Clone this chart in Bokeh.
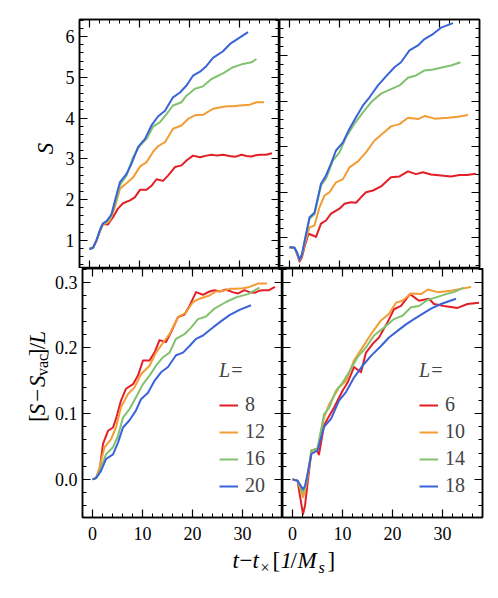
import math
from bokeh.plotting import figure
from bokeh.models import (Range1d, FixedTicker, LinearAxis, Label, Legend, LegendItem,
                          NumeralTickFormatter, BasicTickFormatter, CustomJSTickFormatter)
from bokeh.layouts import row, column
from bokeh.embed import file_html
from bokeh.resources import INLINE

FONT = "Liberation Serif"
COLORS = ["#e41e26", "#f39c34", "#82c26e", "#3b63d9"]

# ---------------- data ----------------
labels_left = ["8", "12", "16", "20"]
labels_right = ["6", "10", "14", "18"]

# top-left: S vs t (L = 8, 12, 16, 20)
t_lt_8 = [0, 0.7, 1.4, 2.1, 2.7, 3.7, 4.7, 5.7, 6.7, 8.1, 9.1, 10.1, 11.4, 12.4, 13.4, 14.7, 15.7, 17.1, 18.4, 19.4, 20.7, 22.1, 23.4, 24.4, 25.5, 26.7, 28, 29.1, 30.4, 31.4, 32.4, 33.3, 34.1, 35.3, 36.5]
s_lt_8 = [0.79, 0.82, 1.0, 1.23, 1.40, 1.39, 1.57, 1.78, 1.91, 1.98, 2.06, 2.24, 2.24, 2.34, 2.50, 2.46, 2.59, 2.80, 2.84, 2.96, 3.08, 3.04, 3.08, 3.10, 3.08, 3.10, 3.07, 3.05, 3.10, 3.07, 3.06, 3.09, 3.10, 3.10, 3.14]
t_lt_12 = [0, 0.7, 1.4, 2.1, 2.7, 3.4, 4.1, 5.1, 6.1, 7.4, 8.7, 10.1, 11.4, 12.7, 13.7, 15.1, 16.7, 18.4, 19.7, 21.1, 22.7, 24.7, 26, 27.4, 28.7, 30.1, 32.1, 33.4, 34.9]
s_lt_12 = [0.79, 0.82, 1.0, 1.24, 1.40, 1.42, 1.49, 1.82, 2.27, 2.40, 2.54, 2.81, 2.92, 3.17, 3.31, 3.41, 3.74, 3.82, 3.98, 4.07, 4.08, 4.23, 4.26, 4.29, 4.29, 4.31, 4.33, 4.39, 4.39]
t_lt_16 = [0, 0.7, 1.4, 2.1, 2.7, 3.4, 4.1, 5.1, 6.1, 7.4, 8.7, 10.1, 11.4, 12.7, 14.1, 15.4, 16.7, 18.4, 19.4, 21.1, 22.7, 24.4, 26.7, 28.7, 30.7, 32.4, 33.4]
s_lt_16 = [0.79, 0.82, 1.0, 1.25, 1.41, 1.45, 1.53, 1.90, 2.36, 2.59, 3.04, 3.33, 3.49, 3.79, 3.90, 4.10, 4.31, 4.39, 4.55, 4.72, 4.78, 4.96, 5.10, 5.25, 5.33, 5.37, 5.45]
t_lt_20 = [0, 0.7, 1.4, 2.1, 2.7, 3.4, 4.4, 5.1, 6.1, 7.4, 8.4, 9.7, 11.1, 12.4, 13.7, 15.1, 16.7, 18.1, 19.4, 20.7, 22.1, 23.4, 24.7, 26.7, 28.1, 30.1, 31.7]
s_lt_20 = [0.79, 0.82, 1.0, 1.26, 1.42, 1.47, 1.64, 1.98, 2.43, 2.63, 2.88, 3.29, 3.49, 3.82, 4.04, 4.18, 4.51, 4.63, 4.80, 5.04, 5.14, 5.28, 5.48, 5.64, 5.82, 5.98, 6.11]

# bottom-left: [S - S_vac]/L
t_lb_8 = [0, 0.7, 1.4, 2.1, 3.1, 4.1, 4.7, 5.7, 6.7, 8.1, 9.1, 10.1, 11.4, 12.4, 13.4, 14.7, 15.7, 17.1, 18.4, 19.4, 20.7, 22.1, 23.4, 24.4, 25.5, 26.7, 28, 29.1, 30.4, 31.4, 32.4, 33.3, 34.1, 35.3, 36.5]
v_lb_8 = [0, 0.002, 0.013, 0.054, 0.074, 0.079, 0.092, 0.120, 0.138, 0.145, 0.158, 0.181, 0.181, 0.193, 0.212, 0.209, 0.224, 0.247, 0.251, 0.264, 0.285, 0.281, 0.286, 0.288, 0.286, 0.289, 0.285, 0.283, 0.288, 0.285, 0.284, 0.287, 0.288, 0.288, 0.293]
t_lb_12 = [0, 0.7, 1.4, 2.4, 3.7, 4.7, 5.7, 7.1, 8.4, 9.7, 11.4, 12.7, 14.1, 15.4, 17.1, 18.7, 20.1, 21.4, 23.4, 24.7, 26.1, 27.4, 28.7, 30.1, 31.4, 33.1, 34.9]
v_lb_12 = [0, 0.002, 0.018, 0.049, 0.061, 0.079, 0.110, 0.130, 0.140, 0.160, 0.173, 0.193, 0.208, 0.221, 0.247, 0.254, 0.270, 0.275, 0.280, 0.286, 0.287, 0.290, 0.290, 0.291, 0.293, 0.298, 0.298]
t_lb_16 = [0, 0.7, 1.4, 2.7, 4.1, 5.1, 6.1, 7.4, 8.7, 10.1, 11.4, 12.7, 14.1, 15.4, 16.7, 18.4, 19.7, 21.1, 22.7, 24.4, 26.7, 28.7, 31.1, 33.4]
v_lb_16 = [0, 0.002, 0.011, 0.038, 0.049, 0.066, 0.094, 0.107, 0.125, 0.145, 0.158, 0.173, 0.186, 0.193, 0.214, 0.221, 0.231, 0.244, 0.248, 0.260, 0.270, 0.277, 0.282, 0.292]
t_lb_20 = [0, 0.7, 1.7, 2.7, 4.1, 5.1, 6.1, 7.4, 8.7, 9.7, 11.1, 12.4, 13.7, 15.1, 16.7, 18.1, 19.4, 20.7, 22.1, 23.7, 25.4, 27.4, 29.4, 31.7]
v_lb_20 = [0, 0.002, 0.013, 0.031, 0.038, 0.056, 0.079, 0.090, 0.105, 0.122, 0.132, 0.150, 0.163, 0.171, 0.189, 0.193, 0.203, 0.214, 0.219, 0.229, 0.239, 0.250, 0.258, 0.265]

# top-right: S vs t (L = 6, 10, 14, 18)
t_rt_6 = [0, 1, 1.5, 2, 2.5, 3, 3.8, 4.7, 5.3, 6.3, 7.3, 8.3, 10, 11, 12.3, 13.3, 14.3, 15.3, 16.7, 18.3, 20.3, 22, 23.7, 25.3, 26.7, 28.3, 30.3, 32.3, 34, 35.5, 37.3]
s_rt_6 = [0.79, 0.78, 0.65, 0.48, 0.58, 0.80, 1.09, 1.05, 1.02, 1.31, 1.38, 1.53, 1.64, 1.75, 1.78, 1.77, 1.89, 2.00, 2.04, 2.13, 2.33, 2.35, 2.46, 2.40, 2.44, 2.39, 2.37, 2.35, 2.38, 2.38, 2.41]
t_rt_10 = [0, 1, 1.5, 2, 2.5, 3, 4, 5, 6, 7, 8, 9.3, 10.7, 12, 13.7, 15.3, 17, 18.7, 20.3, 22, 23.7, 25.7, 27.1, 29, 31.7, 33.7, 35.7]
s_rt_10 = [0.79, 0.78, 0.66, 0.52, 0.62, 0.85, 1.23, 1.27, 1.67, 1.93, 2.0, 2.22, 2.29, 2.55, 2.68, 2.88, 3.14, 3.30, 3.45, 3.50, 3.64, 3.61, 3.68, 3.62, 3.64, 3.66, 3.70]
t_rt_14 = [0, 1, 1.5, 2, 2.5, 3, 4, 5, 6.3, 7.3, 8.7, 10, 11.3, 13, 14.7, 16.3, 18.3, 20.3, 22, 23.7, 25.3, 27, 28.7, 30.7, 32.3, 34.2]
s_rt_14 = [0.79, 0.78, 0.67, 0.51, 0.63, 0.90, 1.42, 1.52, 2.15, 2.30, 2.70, 2.88, 3.21, 3.51, 3.76, 3.98, 4.17, 4.27, 4.35, 4.52, 4.57, 4.68, 4.70, 4.75, 4.79, 4.86]
t_rt_18 = [0, 1, 1.5, 2, 2.5, 3, 4, 5, 6.3, 7.3, 8.3, 9.3, 10.7, 12, 13.3, 14.7, 16, 17.7, 19.3, 21, 22.3, 24, 25.7, 27, 28.7, 30.3, 32.7]
s_rt_18 = [0.79, 0.78, 0.68, 0.52, 0.64, 0.92, 1.45, 1.55, 2.19, 2.37, 2.63, 2.92, 3.10, 3.40, 3.65, 3.91, 4.09, 4.35, 4.55, 4.75, 4.86, 5.12, 5.23, 5.37, 5.48, 5.62, 5.72]

# bottom-right: [S - S_vac]/L
t_rb_6 = [0, 1, 1.5, 2.1, 2.5, 3, 3.8, 4.7, 5.3, 6.3, 7.3, 8.3, 10, 11, 12.3, 13.7, 14.7, 16, 17.3, 19, 20.3, 21.7, 23.5, 25.3, 27.3, 28.3, 30.3, 33, 35, 37.3]
v_rb_6 = [0, -0.002, -0.025, -0.053, -0.04, -0.007, 0.044, 0.046, 0.038, 0.082, 0.096, 0.109, 0.135, 0.147, 0.171, 0.163, 0.193, 0.206, 0.216, 0.239, 0.259, 0.264, 0.282, 0.272, 0.275, 0.267, 0.264, 0.261, 0.267, 0.269]
t_rb_10 = [0, 1, 1.5, 2.1, 2.5, 3, 3.8, 5, 6.3, 7.3, 9.3, 10.7, 12.3, 14, 15.7, 17.7, 19.3, 20.7, 22, 23.7, 25.7, 27.1, 29, 31.7, 33.7, 35.7]
v_rb_10 = [0, -0.002, -0.012, -0.027, -0.018, 0.004, 0.044, 0.046, 0.094, 0.114, 0.140, 0.150, 0.181, 0.201, 0.221, 0.242, 0.252, 0.269, 0.272, 0.283, 0.282, 0.289, 0.285, 0.287, 0.290, 0.293]
t_rb_14 = [0, 1, 1.5, 2.1, 2.5, 3, 3.8, 5, 6.3, 7.3, 8.7, 10, 11.3, 13, 14.7, 16.3, 18.3, 20.3, 22, 23.7, 25.3, 27, 28.7, 30.7, 32.3, 34.2]
v_rb_14 = [0, -0.002, -0.01, -0.020, -0.013, 0.006, 0.044, 0.047, 0.099, 0.109, 0.135, 0.147, 0.163, 0.186, 0.201, 0.219, 0.231, 0.244, 0.249, 0.262, 0.264, 0.273, 0.277, 0.282, 0.285, 0.292]
t_rb_18 = [0, 1, 1.5, 2.1, 2.5, 3, 3.8, 5, 6.3, 7.7, 9.3, 10.7, 12.3, 14, 15.7, 17.7, 19.3, 21, 22.7, 24.3, 26, 27.7, 29.7, 32.7]
v_rb_18 = [0, -0.002, -0.008, -0.015, -0.010, 0.008, 0.039, 0.044, 0.080, 0.092, 0.120, 0.133, 0.155, 0.173, 0.188, 0.203, 0.216, 0.226, 0.236, 0.244, 0.252, 0.260, 0.267, 0.275]

x_major = [0, 10, 20, 30]
x_minor = [-2, 2, 4, 6, 8, 12, 14, 16, 18, 22, 24, 26, 28, 32, 34, 36, 38]
yt_major = [1, 2, 3, 4, 5, 6]
yr_major = [1, 2, 3, 4, 5]
yb_major = [0.0, 0.1, 0.2, 0.3]

# ---------------- layout constants (page pixels) ----------------
X_RANGE = (-2, 38)
YLT = (0.31, 6.42)
YRT = (0.325, 5.80)
YB = (-0.058, 0.321)
FW, FH = 200, 249
TOP = 19            # frame top of upper row
BOT_BORDER = 30     # border below lower row
WY_TOP = 60         # width of y-label strip (upper row)
WY_BOT = 51         # width of y-label strip (lower row)
FRAME_LEFT = 79
ROW1_H = TOP + FH
ROW2_H = FH + BOT_BORDER
BASE_SHIFT = 0.33   # Bokeh's "alphabetic" anchor sits this many em below the drawn baseline


def frange(a, b, step):
    out, k = [], 0
    while True:
        v = round(a + k * step, 6)
        if v > b + 1e-9:
            break
        out.append(v)
        k += 1
    return out


def style_axis(ax, show):
    ax.axis_line_color = "black"
    ax.axis_line_width = 1.5
    ax.major_tick_line_color = "black"
    ax.major_tick_line_width = 1.2
    ax.minor_tick_line_color = "black"
    ax.minor_tick_line_width = 1
    ax.major_tick_in = 8
    ax.major_tick_out = 0
    ax.minor_tick_in = 4
    ax.minor_tick_out = 0
    ax.major_label_text_font = FONT
    ax.major_label_text_color = "black"
    if show:
        ax.major_label_text_font_size = "18px"
        ax.major_label_standoff = 5
    else:
        ax.major_label_text_font_size = "0px"
        ax.major_label_standoff = 0
        ax.formatter = CustomJSTickFormatter(code="return ''")


def make_panel(yr, ymaj, ymin, yfmt, show_left, show_bottom, bl, br, bt, bb):
    p = figure(frame_width=FW, frame_height=FH, x_range=Range1d(*X_RANGE), y_range=Range1d(*yr),
               x_axis_location=None, y_axis_location=None, toolbar_location=None,
               output_backend="svg", min_border_left=bl, min_border_right=br,
               min_border_top=bt, min_border_bottom=bb)
    p.outline_line_color = "black"
    p.outline_line_width = 1.5
    p.grid.visible = False
    p.background_fill_color = "white"
    p.border_fill_color = "white"
    for loc in ("below", "above"):
        ax = LinearAxis(ticker=FixedTicker(ticks=x_major, minor_ticks=x_minor))
        style_axis(ax, loc == "below" and show_bottom)
        if loc == "below" and show_bottom:
            ax.major_label_standoff = 9
        p.add_layout(ax, loc)
    for loc in ("left", "right"):
        ax = LinearAxis(ticker=FixedTicker(ticks=ymaj, minor_ticks=ymin), formatter=yfmt())
        style_axis(ax, loc == "left" and show_left)
        p.add_layout(ax, loc)
    return p


def add_lines(p, series):
    rs = []
    for (t, v), c in zip(series, COLORS):
        rs.append(p.line(t, v, line_color=c, line_width=2, line_join="round"))
    return rs


def add_legend(p, rs, labs):
    items = [LegendItem(label=l, renderers=[r]) for l, r in zip(labs, rs)]
    leg = Legend(items=items, location=(137, 20), title="L=", title_text_font=FONT,
                 title_text_font_style="italic", title_text_font_size="20px", title_standoff=11,
                 label_text_font=FONT, label_text_font_size="20px", glyph_width=19,
                 glyph_height=20, label_height=20, label_standoff=7, spacing=4,
                 padding=0, margin=0, border_line_color=None, background_fill_alpha=0)
    p.add_layout(leg)


def strip(w, h):
    f = figure(width=w, height=h, x_range=Range1d(0, w), y_range=Range1d(0, h),
               x_axis_location=None, y_axis_location=None, toolbar_location=None,
               output_backend="svg", min_border=0)
    f.outline_line_color = None
    f.grid.visible = False
    return f


def txt(p, x, y, text, size, italic=False, angle=0.0, align="left", baseline="alphabetic"):
    p.add_layout(Label(x=x, y=y, text=text, text_font=FONT, text_font_size=f"{size}px",
                       text_font_style="italic" if italic else "normal", angle=angle,
                       text_align=align, text_baseline=baseline, text_color="black"))


yt_minor_l = [v for v in frange(0.4, 6.4, 0.2) if abs(v - round(v)) > 1e-6]
yt_minor_r = [v for v in frange(0.4, 5.8, 0.2) if abs(v - round(v)) > 1e-6]
yb_minor = [v for v in frange(-0.04, 0.32, 0.02) if abs(v * 10 - round(v * 10)) > 1e-6]
fmt_b = lambda: NumeralTickFormatter(format="0.0")

p1 = make_panel(YLT, yt_major, yt_minor_l, BasicTickFormatter, True, False,
                FRAME_LEFT - WY_TOP, 0, TOP, 0)
p2 = make_panel(YRT, yr_major, yt_minor_r, BasicTickFormatter, False, False, 0, 10, TOP, 0)
p3 = make_panel(YB, yb_major, yb_minor, fmt_b, True, True, FRAME_LEFT - WY_BOT, 0, 0, BOT_BORDER)
p4 = make_panel(YB, yb_major, yb_minor, fmt_b, False, True, 0, 10, 0, BOT_BORDER)

add_lines(p1, [(t_lt_8, s_lt_8), (t_lt_12, s_lt_12), (t_lt_16, s_lt_16), (t_lt_20, s_lt_20)])
add_lines(p2, [(t_rt_6, s_rt_6), (t_rt_10, s_rt_10), (t_rt_14, s_rt_14), (t_rt_18, s_rt_18)])
r3 = add_lines(p3, [(t_lb_8, v_lb_8), (t_lb_12, v_lb_12), (t_lb_16, v_lb_16), (t_lb_20, v_lb_20)])
r4 = add_lines(p4, [(t_rb_6, v_rb_6), (t_rb_10, v_rb_10), (t_rb_14, v_rb_14), (t_rb_18, v_rb_18)])
add_legend(p3, r3, labels_left)
add_legend(p4, r4, labels_right)

# ---- y label strips (page-pixel coordinates) ----
ylT = strip(WY_TOP, ROW1_H)
txt(ylT, 52.5 - BASE_SHIFT * 23, ROW1_H - 145, "S", 23, italic=True, angle=math.pi / 2)

ylB = strip(WY_BOT, ROW2_H)
y0 = ROW1_H + ROW2_H  # page y of bottom of this strip
ypieces = [("[", 440.0, False, 23, 45.0), ("S", 432.3, True, 23, 45.0), ("\u2212", 417.3, False, 23, 45.0),
           ("S", 400.8, True, 23, 45.0), ("vac", 388.5, False, 16, 47.0), ("]", 366.3, False, 23, 45.0),
           ("/", 358.6, False, 23, 45.0), ("L", 352.2, True, 23, 45.0)]
for s, py, it, sz, bx in ypieces:
    txt(ylB, bx - BASE_SHIFT * sz, y0 - py, s, sz, italic=it, angle=math.pi / 2)

# ---- x label strip spanning both columns ----
XL_H = 42
total_w = WY_BOT + (FRAME_LEFT - WY_BOT) + 2 * FW + 10
xl = strip(total_w, XL_H)
yb_page = y0 + XL_H
xpieces = [("t", 232, True, 23, 568), ("\u2212", 239, False, 23, 568), ("t", 252, True, 23, 568),
           ("\u00d7", 260, False, 16, 572), ("[", 272, False, 23, 568), ("1", 280, True, 23, 568),
           ("/", 290, False, 23, 568), ("M", 297, True, 23, 568), ("s", 318, True, 16, 572),
           ("]", 327, False, 23, 568)]
for s, px, it, sz, by in xpieces:
    txt(xl, px, yb_page - (by - BASE_SHIFT * sz), s, sz, italic=it)

layout = column(row(ylT, p1, p2), row(ylB, p3, p4), xl)
open("out.html", "w").write(file_html(layout, INLINE))
